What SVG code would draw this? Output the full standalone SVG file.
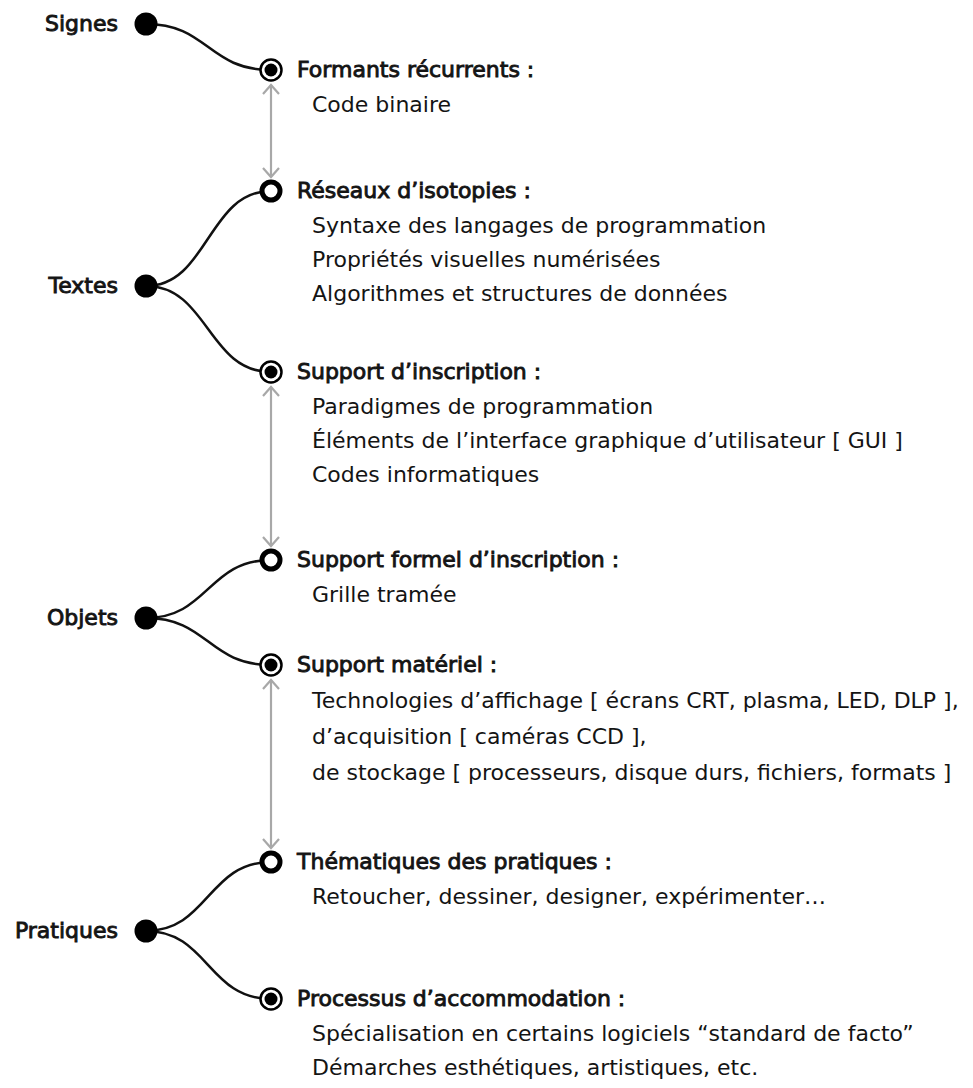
<svg xmlns="http://www.w3.org/2000/svg" width="973" height="1088" viewBox="0 0 973 1088">
<defs>
<style>
text{font-family:"DejaVu Sans","Liberation Sans",sans-serif;font-size:22px;fill:#141414}
.hd{stroke:#141414;stroke-width:0.9px}
.lbl{text-anchor:end;stroke:#141414;stroke-width:0.9px}
.curve{fill:none;stroke:#111;stroke-width:2.5}
.arr{fill:none;stroke:#a8a8a8;stroke-width:2.2;marker-start:url(#chev);marker-end:url(#chev)}
.dot{fill:#000}
.ring{fill:#fff;stroke:#000;stroke-width:2.5}
.hollow{fill:#fff;stroke:#000;stroke-width:5}
</style>
<marker id="chev" viewBox="0 0 20 20" refX="10" refY="10" markerWidth="20" markerHeight="20" markerUnits="userSpaceOnUse" orient="auto-start-reverse">
<path d="M1,2 L10,10 L1,18" fill="none" stroke="#a8a8a8" stroke-width="2.2"/>
</marker>
</defs>
<rect width="973" height="1088" fill="#fff"/>
<g id="connectors">
<path class="curve" d="M146,24 C208,24 208,70 271,70"/>
<path class="curve" d="M146,286 C208,286 208,191 271,191"/>
<path class="curve" d="M146,286 C208,286 208,372 271,372"/>
<path class="curve" d="M146,618 C208,618 208,560 271,560"/>
<path class="curve" d="M146,618 C208,618 208,665 271,665"/>
<path class="curve" d="M146,931 C208,931 208,862 271,862"/>
<path class="curve" d="M146,931 C208,931 208,999 271,999"/>
<path class="arr" d="M271,85 L271,177"/>
<path class="arr" d="M271,387 L271,546"/>
<path class="arr" d="M271,680 L271,848"/>
</g>
<g id="signes"><circle class="dot" cx="146" cy="24" r="11.5"/><text class="lbl" x="118" y="31">Signes</text></g>
<g id="textes"><circle class="dot" cx="146" cy="286" r="11.5"/><text class="lbl" x="118" y="293">Textes</text></g>
<g id="objets"><circle class="dot" cx="146" cy="618" r="11.5"/><text class="lbl" x="118" y="625">Objets</text></g>
<g id="pratiques"><circle class="dot" cx="146" cy="931" r="11.5"/><text class="lbl" x="118" y="938">Pratiques</text></g>
<g id="formants"><circle class="ring" cx="271" cy="70" r="10.5"/><circle class="dot" cx="271" cy="70" r="6.5"/>
<text class="hd" x="297" y="77">Formants récurrents :</text>
<text x="312" y="112">Code binaire</text></g>
<g id="reseaux"><circle class="hollow" cx="271" cy="191" r="9"/>
<text class="hd" x="297" y="198">Réseaux d’isotopies :</text>
<text x="312" y="233">Syntaxe des langages de programmation</text>
<text x="312" y="267">Propriétés visuelles numérisées</text>
<text x="312" y="301">Algorithmes et structures de données</text></g>
<g id="support-inscription"><circle class="ring" cx="271" cy="372" r="10.5"/><circle class="dot" cx="271" cy="372" r="6.5"/>
<text class="hd" x="297" y="379">Support d’inscription :</text>
<text x="312" y="414">Paradigmes de programmation</text>
<text x="312" y="448">Éléments de l’interface graphique d’utilisateur [ GUI ]</text>
<text x="312" y="482">Codes informatiques</text></g>
<g id="support-formel"><circle class="hollow" cx="271" cy="560" r="9"/>
<text class="hd" x="297" y="567">Support formel d’inscription :</text>
<text x="312" y="602">Grille tramée</text></g>
<g id="support-materiel"><circle class="ring" cx="271" cy="665" r="10.5"/><circle class="dot" cx="271" cy="665" r="6.5"/>
<text class="hd" x="297" y="672">Support matériel :</text>
<text x="312" y="708">Technologies d’affichage [ écrans CRT, plasma, LED, DLP ],</text>
<text x="312" y="744">d’acquisition [ caméras CCD ],</text>
<text x="312" y="780">de stockage [ processeurs, disque durs, fichiers, formats ]</text></g>
<g id="thematiques"><circle class="hollow" cx="271" cy="862" r="9"/>
<text class="hd" x="297" y="869">Thématiques des pratiques :</text>
<text x="312" y="904">Retoucher, dessiner, designer, expérimenter…</text></g>
<g id="processus"><circle class="ring" cx="271" cy="999" r="10.5"/><circle class="dot" cx="271" cy="999" r="6.5"/>
<text class="hd" x="297" y="1006">Processus d’accommodation :</text>
<text x="312" y="1041">Spécialisation en certains logiciels “standard de facto”</text>
<text x="312" y="1075">Démarches esthétiques, artistiques, etc.</text></g>
</svg>
